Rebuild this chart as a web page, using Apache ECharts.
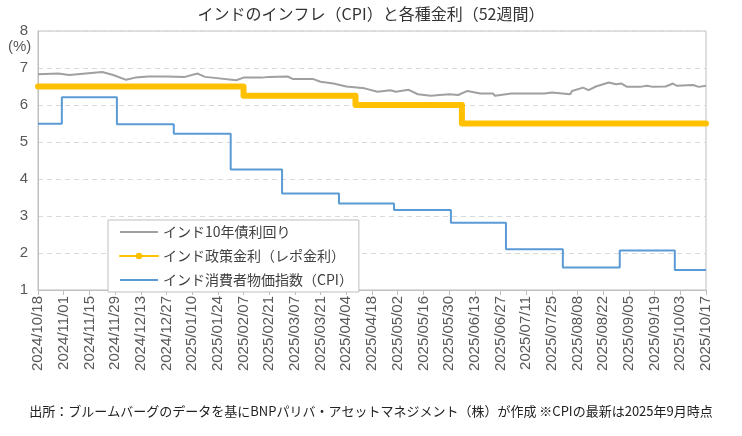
<!DOCTYPE html>
<html>
<head>
<meta charset="utf-8">
<script src="https://cdn.jsdelivr.net/npm/echarts@6.0.0/dist/echarts.min.js"></script>
<style>
html, body { margin: 0; padding: 0; background: #fff; }
#chart { width: 742px; height: 436px; }
</style>
</head>
<body>
<div id="chart"></div>
<script>
// 期間（週次の目盛りは2週間ごと）
var startDate = '2024/10/18';
var endDate = '2025/10/17';

// インド10年債利回り
var yieldDates = ['2024/10/18','2024/10/29','2024/11/04','2024/11/13','2024/11/22','2024/11/28','2024/12/05','2024/12/10','2024/12/17','2024/12/27',
	'2025/01/06','2025/01/13','2025/01/17','2025/01/21','2025/02/03','2025/02/07','2025/02/17','2025/02/21','2025/03/03','2025/03/06',
	'2025/03/17','2025/03/21','2025/03/28','2025/04/04','2025/04/14','2025/04/21','2025/04/22','2025/04/28','2025/05/01','2025/05/08',
	'2025/05/13','2025/05/20','2025/05/30','2025/06/04','2025/06/09','2025/06/16','2025/06/23','2025/06/24','2025/07/03','2025/07/21',
	'2025/07/25','2025/08/04','2025/08/05','2025/08/11','2025/08/14','2025/08/18','2025/08/25','2025/08/29','2025/09/01','2025/09/04',
	'2025/09/11','2025/09/15','2025/09/18','2025/09/25','2025/09/29','2025/10/01','2025/10/10','2025/10/13','2025/10/17'];
var yieldValues = [6.83,6.85,6.81,6.85,6.89,6.81,6.68,6.74,6.77,6.77,
	6.76,6.85,6.76,6.74,6.67,6.74,6.74,6.76,6.77,6.70,
	6.70,6.63,6.58,6.50,6.45,6.36,6.31,6.40,6.36,6.41,
	6.29,6.25,6.29,6.27,6.38,6.31,6.31,6.25,6.31,6.31,
	6.34,6.29,6.38,6.47,6.40,6.50,6.61,6.56,6.58,6.49,
	6.49,6.52,6.49,6.50,6.58,6.52,6.54,6.49,6.52];

// インド政策金利（レポ金利）：変更日
var repoDates = ['2024/10/18','2025/02/07','2025/04/09','2025/06/06','2025/10/17'];
var repoValues = [6.50,6.25,6.00,5.50,5.50];

// インド消費者物価指数（CPI）：月末日付
var cpiDates = ['2024/10/18','2024/10/31','2024/11/30','2024/12/31','2025/01/31','2025/02/28','2025/03/31','2025/04/30',
	'2025/05/31','2025/06/30','2025/07/31','2025/08/31','2025/09/30','2025/10/17'];
var cpiValues = [5.49,6.21,5.48,5.22,4.26,3.61,3.34,3.16,2.82,2.10,1.61,2.07,1.54,1.54];

var seriesNames = ['インド10年債利回り', 'インド政策金利（レポ金利）', 'インド消費者物価指数（CPI）'];

function toUTC(s){
	var p = s.split('/');
	return Date.UTC(+p[0], +p[1] - 1, +p[2]);
}
var DAY = 86400000;
var t0 = toUTC(startDate);
function dayOf(s){
	return Math.round((toUTC(s) - t0) / DAY);
}
function labelOf(d){
	var dt = new Date(t0 + d * DAY);
	var m = dt.getUTCMonth() + 1, dd = dt.getUTCDate();
	return dt.getUTCFullYear() + '/' + (m < 10 ? '0' + m : m) + '/' + (dd < 10 ? '0' + dd : dd);
}
function pairs(dates, values){
	var out = [];
	for(var i = 0; i < dates.length; i++){
		out.push([dayOf(dates[i]), values[i]]);
	}
	return out;
}

var font = '"Noto Sans CJK JP", "Noto Sans", sans-serif';
var theChart = echarts.init(document.getElementById('chart'));

var option = {
	animation: false,
	title: {
		text: 'インドのインフレ（CPI）と各種金利（52週間）',
		left: 'center',
		top: 1,
		textStyle: { fontFamily: font, fontSize: 16, fontWeight: 'normal', color: '#333' }
	},
	grid: {
		left: 38, right: 36, top: 31, bottom: 146,
		show: true, borderColor: '#bfbfbf', borderWidth: 1
	},
	legend: {
		orient: 'vertical',
		left: 108, top: 220,
		padding: [5, 6, 5, 11],
		itemGap: 10,
		itemWidth: 38,
		itemHeight: 8,
		backgroundColor: '#fff',
		borderColor: '#bfbfbf',
		borderWidth: 1,
		textStyle: { fontFamily: font, fontSize: 14, color: '#404040' },
		data: [
			{ name: seriesNames[0], itemStyle: { opacity: 0 } },
			{ name: seriesNames[1] },
			{ name: seriesNames[2], itemStyle: { opacity: 0 } }
		]
	},
	xAxis: {
		type: 'value',
		min: 0,
		max: dayOf(endDate),
		interval: 14,
		axisLine: { show: true, lineStyle: { color: '#bfbfbf' } },
		axisTick: { show: true, length: 5, lineStyle: { color: '#bfbfbf' } },
		splitLine: { show: false },
		axisLabel: {
			rotate: 90,
			margin: 6,
			fontFamily: 'Liberation Sans, Arial, sans-serif',
			fontSize: 15,
			color: '#595959',
			showMinLabel: true,
			showMaxLabel: true,
			formatter: function(v){ return labelOf(v); }
		}
	},
	yAxis: {
		type: 'value',
		min: 1, max: 8, interval: 1,
		axisLine: { show: true, lineStyle: { color: '#bfbfbf' } },
		axisTick: { show: false },
		splitLine: { lineStyle: { color: '#d9d9d9', type: [5, 4] } },
		axisLabel: { fontFamily: 'Liberation Sans, Arial, sans-serif', fontSize: 15, color: '#595959', margin: 10 }
	},
	graphic: [
		{ type: 'text', left: 8, top: 39, style: { text: '(%)', font: '15px Liberation Sans, Arial, sans-serif', fill: '#595959' } },
		{ type: 'text', left: 'center', top: 405, style: {
			text: '出所：ブルームバーグのデータを基にBNPパリバ・アセットマネジメント（株）が作成 ※CPIの最新は2025年9月時点',
			font: '13px ' + font, fill: '#222' } }
	],
	series: [
		{
			name: seriesNames[0], type: 'line', symbol: 'none',
			lineStyle: { color: '#a0a0a0', width: 2 }, itemStyle: { color: '#a0a0a0' },
			data: pairs(yieldDates, yieldValues)
		},
		{
			name: seriesNames[1], type: 'line', step: 'end',
			symbol: 'circle', symbolSize: 7, showSymbol: false,
			lineStyle: { color: '#ffc000', width: 6, cap: 'round', join: 'round' }, itemStyle: { color: '#ffc000' },
			data: pairs(repoDates, repoValues)
		},
		{
			name: seriesNames[2], type: 'line', step: 'end', symbol: 'none',
			lineStyle: { color: '#5b9bd5', width: 2 }, itemStyle: { color: '#5b9bd5' },
			data: pairs(cpiDates, cpiValues)
		}
	]
};

theChart.setOption(option);
</script>
</body>
</html>
